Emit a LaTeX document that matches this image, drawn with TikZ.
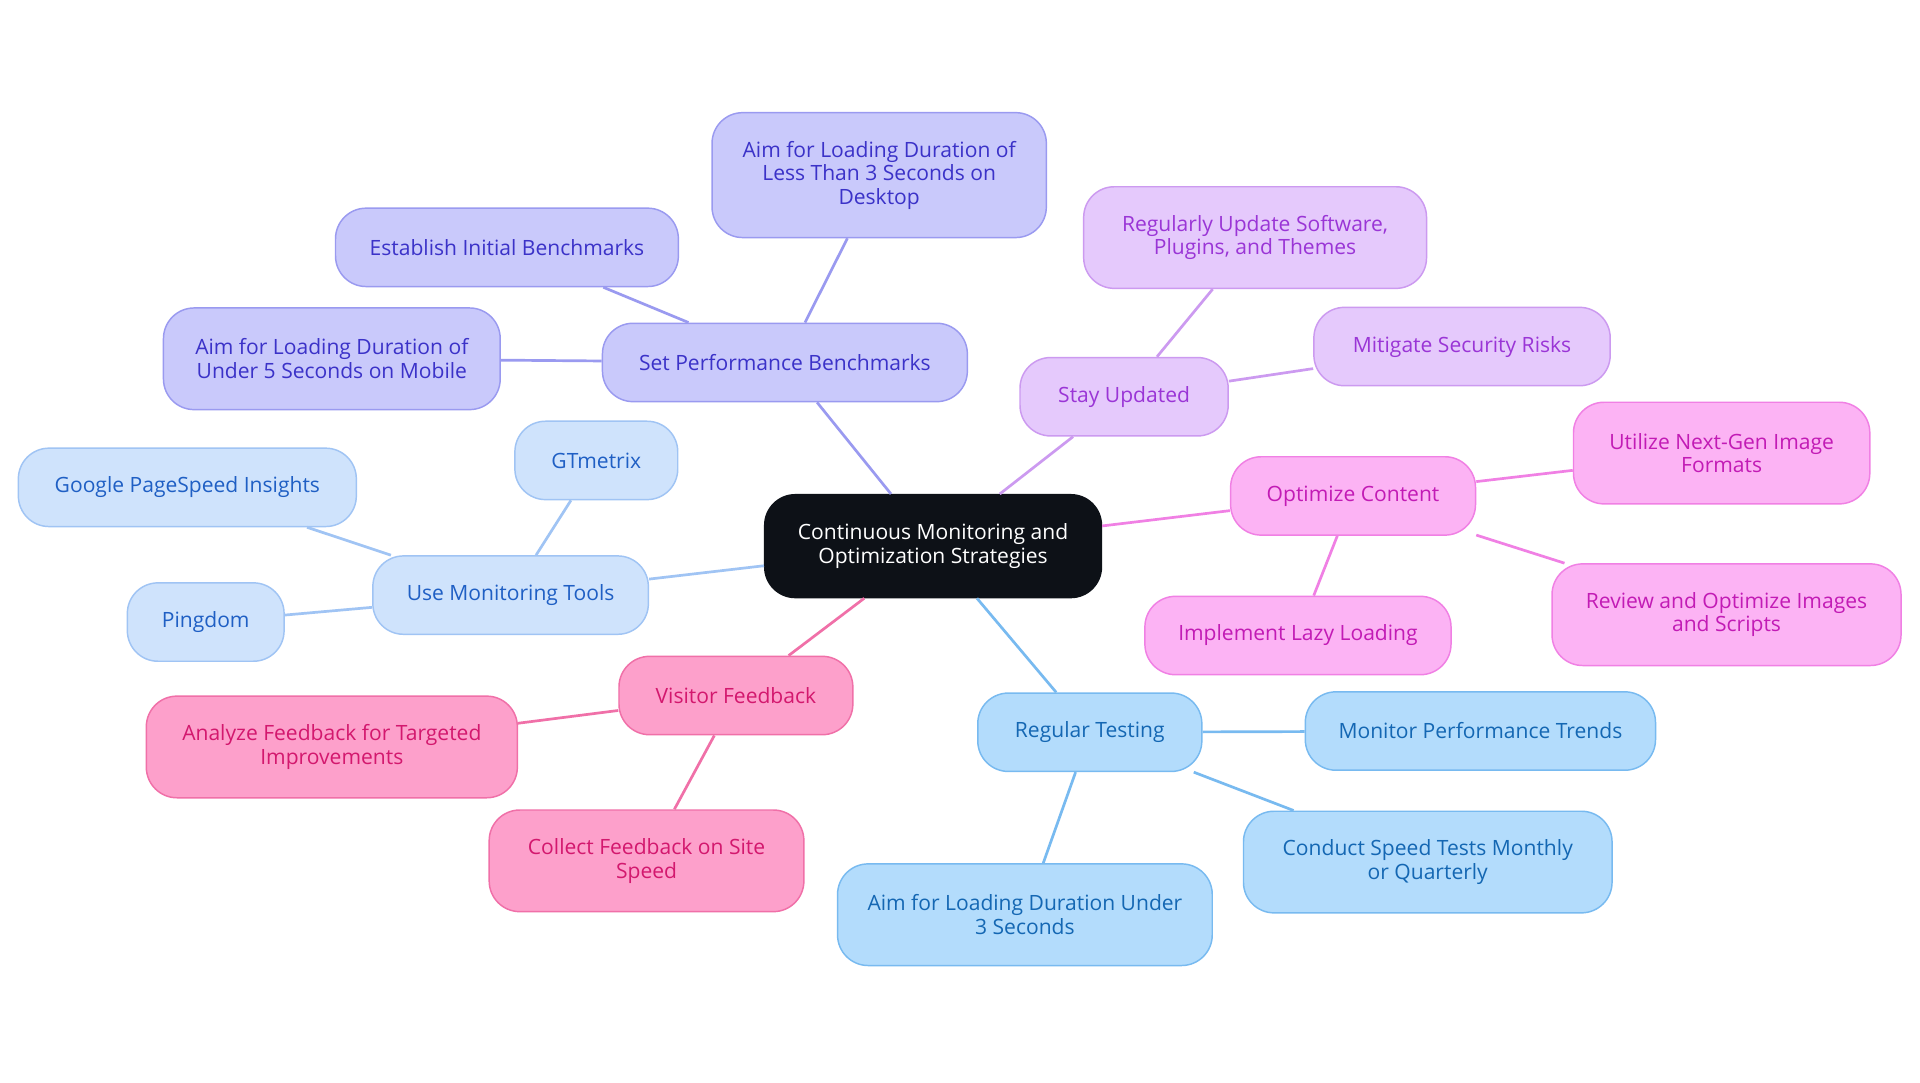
\documentclass[tikz,border=0pt]{standalone}
\usepackage{fontspec}
\setmainfont{Open Sans}
\begin{document}
\begin{tikzpicture}[x=0.5pt,y=-0.5pt]
\useasboundingbox[fill=white] (0,0) rectangle (1568,884);
\tikzset{
 bx/.style n args={3}{draw=#1,fill=#2,text=#3,rounded corners=12.5pt,line width=0.6pt,align=center,font=\fontsize{8.6}{9.6}\selectfont,inner sep=0pt},
 pur/.style={bx={c9a0f0}{c9c9fb}{3b32c8}}, blu/.style={bx={a0c4f4}{cfe3fc}{1f5fc4}},
 pnk/.style={bx={f070a8}{fda0cb}{d3186e}}, sky/.style={bx={78baf0}{b3dcfc}{1467b3}},
 mag/.style={bx={f080e4}{fcb3f4}{c21bb5}}, vio/.style={bx={cc9af0}{e5c9fc}{9a35d6}},
 sz/.style 2 args={minimum width=#1*0.5pt,minimum height=#2*0.5pt},
 ed/.style={draw=#1,line width=1.1pt}}
\definecolor{c9a0f0}{HTML}{9A9AF0}\definecolor{c9c9fb}{HTML}{C9C9FB}\definecolor{3b32c8}{HTML}{3B32C8}
\definecolor{a0c4f4}{HTML}{A0C4F4}\definecolor{cfe3fc}{HTML}{CFE3FC}\definecolor{1f5fc4}{HTML}{1F5FC4}
\definecolor{f070a8}{HTML}{F070A8}\definecolor{fda0cb}{HTML}{FDA0CB}\definecolor{d3186e}{HTML}{D3186E}
\definecolor{78baf0}{HTML}{78BAF0}\definecolor{b3dcfc}{HTML}{B3DCFC}\definecolor{1467b3}{HTML}{1467B3}
\definecolor{f080e4}{HTML}{F080E4}\definecolor{fcb3f4}{HTML}{FCB3F4}\definecolor{c21bb5}{HTML}{C21BB5}
\definecolor{cc9af0}{HTML}{CC9AF0}\definecolor{e5c9fc}{HTML}{E5C9FC}\definecolor{9a35d6}{HTML}{9A35D6}
\definecolor{dark}{HTML}{0D1117}
\node[bx={dark}{dark}{white},sz={275}{84}] (c) at (762,446) {Continuous Monitoring and\\Optimization Strategies};
\node[pur,sz={298}{64}] (spb) at (641,296) {Set Performance Benchmarks};
\node[pur,sz={273}{102}] (p1) at (718,143) {Aim for Loading Duration of\\Less Than 3 Seconds on\\Desktop};
\node[pur,sz={280}{64}] (p2) at (414,202) {Establish Initial Benchmarks};
\node[pur,sz={275}{83}] (p3) at (271,293) {Aim for Loading Duration of\\Under 5 Seconds on Mobile};
\node[blu,sz={225}{64}] (umt) at (417,486) {Use Monitoring Tools};
\node[blu,sz={133}{64}] (b1) at (487,376) {GTmetrix};
\node[blu,sz={276}{64}] (b2) at (153,398) {Google PageSpeed Insights};
\node[blu,sz={128}{64}] (b3) at (168,508) {Pingdom};
\node[pnk,sz={191}{64}] (vf) at (601,568) {Visitor Feedback};
\node[pnk,sz={303}{83}] (k1) at (271,610) {Analyze Feedback for Targeted\\Improvements};
\node[pnk,sz={257}{83}] (k2) at (528,703) {Collect Feedback on Site\\Speed};
\node[sky,sz={183}{64}] (rt) at (890,598) {Regular Testing};
\node[sky,sz={286}{64}] (s1) at (1209,597) {Monitor Performance Trends};
\node[sky,sz={301}{83}] (s2) at (1166,704) {Conduct Speed Tests Monthly\\or Quarterly};
\node[sky,sz={306}{83}] (s3) at (837,747) {Aim for Loading Duration Under\\3 Seconds};
\node[mag,sz={200}{64}] (oc) at (1105,405) {Optimize Content};
\node[mag,sz={242}{83}] (m1) at (1406,370) {Utilize Next-Gen Image\\Formats};
\node[mag,sz={285}{83}] (m2) at (1410,502) {Review and Optimize Images\\and Scripts};
\node[mag,sz={250}{64}] (m3) at (1060,519) {Implement Lazy Loading};
\node[vio,sz={170}{64}] (su) at (918,324) {Stay Updated};
\node[vio,sz={280}{83}] (v1) at (1025,194) {Regularly Update Software,\\Plugins, and Themes};
\node[vio,sz={242}{64}] (v2) at (1194,283) {Mitigate Security Risks};
\begin{scope}[on background layer/.style={}]
\end{scope}
\draw[ed=c9a0f0] (c) -- (spb); \draw[ed=c9a0f0] (spb) -- (p1); \draw[ed=c9a0f0] (spb) -- (p2); \draw[ed=c9a0f0] (spb) -- (p3);
\draw[ed=a0c4f4] (c) -- (umt); \draw[ed=a0c4f4] (umt) -- (b1); \draw[ed=a0c4f4] (umt) -- (b2); \draw[ed=a0c4f4] (umt) -- (b3);
\draw[ed=f070a8] (c) -- (vf); \draw[ed=f070a8] (vf) -- (k1); \draw[ed=f070a8] (vf) -- (k2);
\draw[ed=78baf0] (c) -- (rt); \draw[ed=78baf0] (rt) -- (s1); \draw[ed=78baf0] (rt) -- (s2); \draw[ed=78baf0] (rt) -- (s3);
\draw[ed=f080e4] (c) -- (oc); \draw[ed=f080e4] (oc) -- (m1); \draw[ed=f080e4] (oc) -- (m2); \draw[ed=f080e4] (oc) -- (m3);
\draw[ed=cc9af0] (c) -- (su); \draw[ed=cc9af0] (su) -- (v1); \draw[ed=cc9af0] (su) -- (v2);
\end{tikzpicture}
\end{document}
